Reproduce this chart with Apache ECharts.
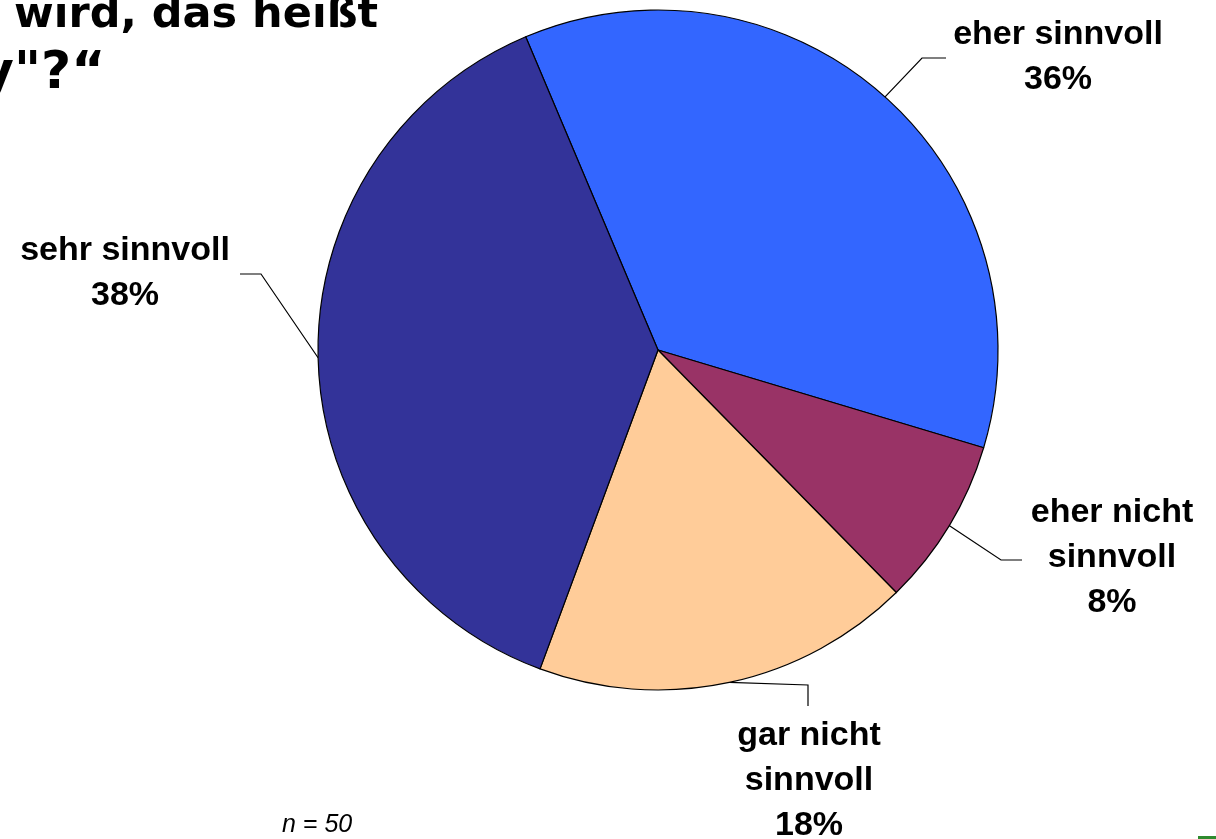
<!DOCTYPE html>
<html><head><meta charset="utf-8">
<script src="https://cdn.jsdelivr.net/npm/echarts@6/dist/echarts.min.js"></script>
<style>html,body{margin:0;padding:0;background:#fff}#c{width:1216px;height:839px}</style>
</head><body><div id="c"></div>
<script>
const categories = ['eher sinnvoll', 'eher nicht\nsinnvoll', 'gar nicht\nsinnvoll', 'sehr sinnvoll'];
const values = [36, 8, 18, 38];
const colors = ['#3366FF', '#993366', '#FFCC99', '#333399'];

// label layout (center of text block, elbow points of the leader line)
const labelPos = [
  {x: 1058, y: 57, elbow: [[922, 58], [946, 58]]},
  {x: 1112, y: 558, elbow: [[1001, 560], [1022, 560]]},
  {x: 809, y: 781, elbow: [[808, 685], [808, 706]]},
  {x: 125, y: 273, elbow: [[261, 274], [240, 274]]}
];

const chart = echarts.init(document.getElementById('c'), null, {renderer: 'canvas'});
chart.setOption({
  backgroundColor: '#fff',
  animation: false,
  graphic: [
    {type: 'text', left: 14, top: -6, style: {text: 'wird, das heißt', font: 'bold 43px "DejaVu Sans"', fill: '#000'}},
    {type: 'text', left: -20, top: 48, style: {text: 'y"?“', font: 'bold 52px "DejaVu Sans"', fill: '#000'}},
    {type: 'text', left: 282, top: 813, style: {text: 'n = 50', font: 'italic 25px "Liberation Sans"', fill: '#000'}},
    {type: 'rect', shape: {x: 1198, y: 836, width: 18, height: 3}, style: {fill: '#2E8B2E'}}
  ],
  series: [{
    type: 'pie',
    center: [658, 350],
    radius: 340,
    startAngle: 112.9,
    clockwise: true,
    avoidLabelOverlap: false,
    data: categories.map((n, i) => ({name: n, value: values[i], itemStyle: {color: colors[i]}})),
    itemStyle: {borderColor: '#000', borderWidth: 1.2},
    label: {
      show: true,
      position: 'outside',
      formatter: p => p.name + '\n' + p.value + '%',
      fontFamily: '"Liberation Sans", Arial, sans-serif',
      fontWeight: 'bold',
      fontSize: 34,
      lineHeight: 45,
      color: '#000',
      align: 'center'
    },
    labelLine: {show: true, length: 30, length2: 20, lineStyle: {color: '#000', width: 1.2}},
    labelLayout: function (params) {
      const lp = labelPos[params.dataIndex];
      const start = params.labelLinePoints ? params.labelLinePoints[0] : null;
      const out = {x: lp.x, y: lp.y, align: 'center', verticalAlign: 'middle'};
      if (start) out.labelLinePoints = [start, lp.elbow[0], lp.elbow[1]];
      return out;
    },
    emphasis: {disabled: true}
  }]
});
</script></body></html>
